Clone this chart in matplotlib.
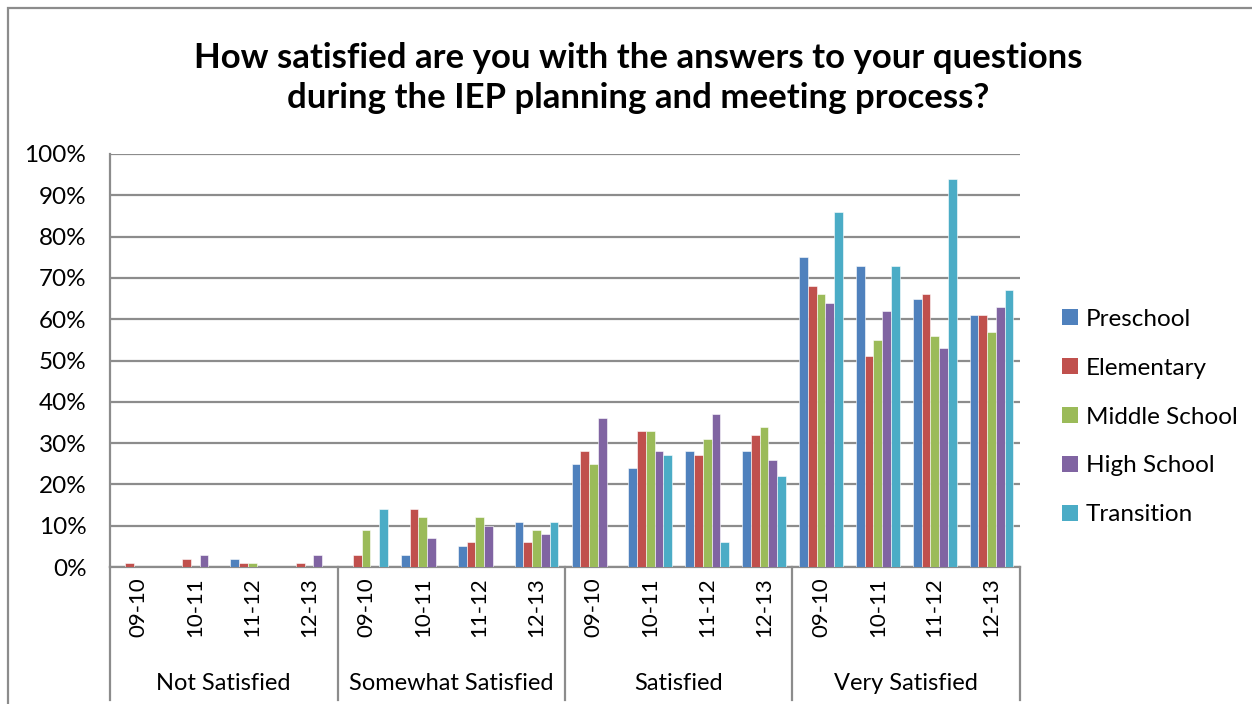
import numpy as np
import matplotlib
matplotlib.use("Agg")
import matplotlib.pyplot as plt
from matplotlib.patches import Patch, Rectangle
from matplotlib.lines import Line2D

plt.rcParams['font.family'] = ['Lato', 'DejaVu Sans']

groups = ["Not Satisfied", "Somewhat Satisfied", "Satisfied", "Very Satisfied"]
years = ["09-10", "10-11", "11-12", "12-13"]
series = ["Preschool", "Elementary", "Middle School", "High School", "Transition"]
colors = ["#4F81BD", "#C0504D", "#9BBB59", "#8064A2", "#4BACC6"]

# values in %, one list per series, 16 slots (group x year)
preschool  = [0, 0, 2, 0,   0, 3, 5, 11,   25, 24, 28, 28,   75, 73, 65, 61]
elementary = [1, 2, 1, 1,   3, 14, 6, 6,   28, 33, 27, 32,   68, 51, 66, 61]
middle     = [0, 0, 1, 0,   9, 12, 12, 9,  25, 33, 31, 34,   66, 55, 56, 57]
high       = [0, 3, 0, 3,   0, 7, 10, 8,   36, 28, 37, 26,   64, 62, 53, 63]
transition = [0, 0, 0, 0,   14, 0, 0, 11,  0, 27, 6, 22,     86, 73, 94, 67]
values = [preschool, elementary, middle, high, transition]

fig = plt.figure(figsize=(12.52, 7.04), dpi=100)
ax = fig.add_axes([110/1252, 1-567/704, 910/1252, 413/704])

x = np.arange(len(groups) * len(years))
w = 1 / 6.5
for i, (vals, c) in enumerate(zip(values, colors)):
    ax.bar(x + (i - 2) * w, vals, width=w, color=c, edgecolor="white", linewidth=0.4, zorder=3)

ax.set_xlim(-0.5, len(x) - 0.5)
ax.set_ylim(0, 100)
ax.set_yticks(np.arange(0, 101, 10))
ax.set_yticklabels([f"{t}%" for t in range(0, 101, 10)], fontsize=17.5)
ax.yaxis.grid(True, color="#8C8C8C", linewidth=1.6, zorder=0)
ax.set_axisbelow(True)
for s in ["top", "right"]:
    ax.spines[s].set_visible(False)
for s in ["left", "bottom"]:
    ax.spines[s].set_color("#8C8C8C")
    ax.spines[s].set_linewidth(1.6)
ax.tick_params(axis="y", length=0, pad=17)
ax.set_xticks([])

# multi-level category labels
trans = ax.get_xaxis_transform()
for k in x:
    ax.text(k, -0.024, years[k % 4], rotation=90, ha="center", va="top",
            fontsize=16, transform=trans)
for g, name in enumerate(groups):
    ax.text(g * 4 + 1.5, -0.281, name, ha="center", va="center", fontsize=17, transform=trans)
for b in [-0.5, 3.5, 7.5, 11.5, 15.5]:
    ax.add_line(Line2D([b, b], [0, -0.322], transform=trans, color="#8C8C8C",
                       linewidth=1.6, clip_on=False))

fig.text(0.51, 0.889, "How satisfied are you with the answers to your questions\nduring the IEP planning and meeting process?",
         ha="center", va="center", fontsize=25, fontweight="bold", linespacing=1.3)

handles = [Patch(facecolor=c, label=s) for s, c in zip(series, colors)]
fig.legend(handles=handles, loc="center left", bbox_to_anchor=(1040/1252, 1-417/704),
           frameon=False, fontsize=17.5, handlelength=0.68, handleheight=0.68,
           handletextpad=0.3, labelspacing=1.15)

fig.patches.append(Rectangle((8/1252, -0.01), 1.02, 0.998, transform=fig.transFigure,
                             fill=False, edgecolor="#8C8C8C", linewidth=1.6))

fig.savefig("out.png", dpi=100)
